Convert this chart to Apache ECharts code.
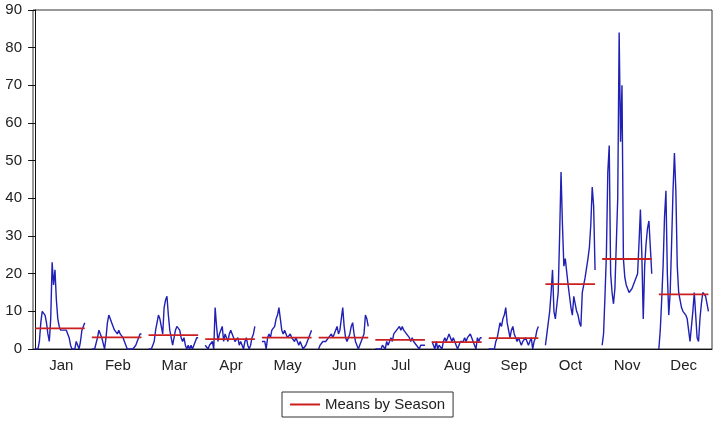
<!DOCTYPE html>
<html>
<head>
<meta charset="utf-8">
<script src="https://cdn.jsdelivr.net/npm/echarts@6/dist/echarts.min.js"></script>
<style>
  html, body { margin: 0; padding: 0; background: #fff; }
  #chart { width: 717px; height: 423px; }
</style>
</head>
<body>
<div id="chart"></div>
<script>
const months = ['Jan', 'Feb', 'Mar', 'Apr', 'May', 'Jun', 'Jul', 'Aug', 'Sep', 'Oct', 'Nov', 'Dec'];

// one value per year inside each month panel
const jan = [0, 0, 0, 2, 7, 10, 10, 9, 7, 4, 2, 8, 23, 17, 21, 13, 8, 6, 5, 5, 5, 5, 5, 5, 3, 1, 0, 0, 0, 2, 1, 0, 2, 5, 5, 7];
const feb = [0, 0, 0, 0, 3, 5, 4, 3, 3, 0, 3, 7, 9, 8, 7, 6, 5, 5, 4, 5, 4, 4, 3, 2, 1, 0, 0, 0, 0, 0, 0, 1, 2, 3, 4, 4];
const mar = [0, 0, 0, 1, 2, 5, 7, 9, 8, 6, 4, 11, 13, 14, 9, 5, 3, 1, 3, 5, 6, 6, 5, 3, 2, 3, 1, 0, 1, 0, 1, 0, 1, 2, 3, 3];
const apr = [1, 1, 0, 1, 1, 2, 0, 11, 6, 2, 4, 5, 6, 2, 4, 3, 2, 4, 5, 4, 3, 2, 2, 3, 1, 2, 2, 0, 2, 3, 1, 0, 1, 3, 4, 6];
const may = [2, 2, 2, 0, 3, 4, 3, 5, 5, 6, 8, 9, 11, 8, 5, 4, 5, 4, 3, 3, 4, 3, 3, 2, 3, 2, 1, 2, 1, 0, 0, 1, 2, 3, 4, 5];
const jun = [0, 1, 1, 2, 2, 2, 2, 3, 3, 4, 3, 4, 5, 6, 4, 5, 8, 11, 6, 3, 2, 2, 4, 6, 7, 4, 2, 2, 0, 1, 2, 2, 4, 9, 8, 6];
const jul = [0, 0, 0, 0, 0, 1, 1, 0, 2, 1, 2, 3, 2, 4, 4, 5, 5, 6, 5, 6, 5, 5, 4, 4, 3, 2, 3, 2, 2, 1, 1, 0, 1, 1, 1, 1];
const aug = [2, 1, 0, 2, 0, 1, 1, 0, 2, 3, 2, 3, 4, 3, 2, 3, 2, 1, 0, 1, 2, 2, 2, 3, 2, 3, 3, 4, 3, 2, 1, 0, 3, 2, 3, 3];
const sep = [0, 0, 0, 0, 0, 2, 3, 5, 7, 6, 8, 9, 11, 7, 5, 3, 5, 6, 4, 3, 2, 3, 3, 1, 2, 2, 3, 3, 1, 2, 3, 0, 2, 3, 5, 6];
const oct = [1, 4, 7, 10, 15, 21, 10, 8, 8, 15, 30, 47, 33, 22, 24, 24, 17, 14, 11, 9, 14, 12, 10, 9, 7, 6, 15, 17, 19, 19, 24, 27, 33, 43, 38, 21];
const nov = [1, 4, 14, 25, 47, 54, 20, 15, 12, 16, 28, 40, 84, 55, 70, 24, 19, 17, 16, 15, 15, 16, 17, 18, 19, 20, 28, 37, 25, 8, 22, 28, 32, 34, 27, 20];
const dec = [0, 5, 13, 22, 35, 42, 20, 9, 15, 28, 42, 52, 42, 22, 15, 13, 11, 10, 10, 9, 8, 5, 2, 6, 10, 15, 9, 3, 2, 8, 12, 15, 15, 14, 12, 10];

const seasonValues = [jan, feb, mar, apr, may, jun, jul, aug, sep, oct, nov, dec];
const seasonMeans = [5.5, 3.1, 3.7, 2.6, 3.0, 3.0, 2.4, 1.8, 2.9, 17.2, 23.9, 14.5];

const slot = 40; // x units per month panel
const blue = '#2020b4';
const red = '#cc1f1f';

const chart = echarts.init(document.getElementById('chart'));

const series = [];
seasonValues.forEach((vals, m) => {
  series.push({
    name: months[m],
    type: 'line',
    xAxisIndex: 0,
    data: vals.map((v, i) => [m * slot + i, v]),
    symbol: 'none',
    lineStyle: { color: blue, width: 1.4 },
    silent: true,
    z: 2
  });
});
seasonValues.forEach((vals, m) => {
  series.push({
    name: 'Means by Season',
    type: 'line',
    xAxisIndex: 0,
    data: [[m * slot, seasonMeans[m]], [m * slot + vals.length - 1, seasonMeans[m]]],
    symbol: 'none',
    itemStyle: { color: red },
    lineStyle: { color: red, width: 1.8 },
    silent: true,
    z: 3
  });
});

const font = 'Liberation Sans, Arial, sans-serif';

chart.setOption({
  animation: false,
  backgroundColor: '#fff',
  grid: {
    left: 33, right: 5, top: 10, bottom: 74,
    show: true, borderColor: '#333', borderWidth: 1
  },
  legend: {
    data: [{ name: 'Means by Season', icon: 'rect' }],
    left: 282, top: 392,
    itemWidth: 30, itemHeight: 2,
    padding: [4, 8],
    borderColor: '#333', borderWidth: 1,
    textStyle: { fontFamily: font, fontSize: 15, color: '#222', lineHeight: 17 }
  },
  xAxis: [
    {
      type: 'value',
      min: -1.5, max: 477.5,
      axisLine: { show: true, lineStyle: { color: '#111', width: 1 } },
      axisTick: { show: false },
      axisLabel: { show: false },
      splitLine: { show: false }
    },
    {
      type: 'category',
      data: months,
      position: 'bottom',
      boundaryGap: true,
      axisLine: { show: false },
      axisTick: { show: false },
      axisLabel: { margin: 9, fontFamily: font, fontSize: 15, color: '#222' },
      splitLine: { show: false }
    }
  ],
  yAxis: {
    type: 'value',
    min: 0, max: 90, interval: 10,
    axisLine: { show: true, lineStyle: { color: '#111', width: 1 } },
    axisTick: { show: true, inside: false, length: 7, lineStyle: { color: '#111' } },
    axisLabel: { margin: 11, fontFamily: font, fontSize: 15, color: '#222' },
    splitLine: { show: false }
  },
  series: series
});
</script>
</body>
</html>
